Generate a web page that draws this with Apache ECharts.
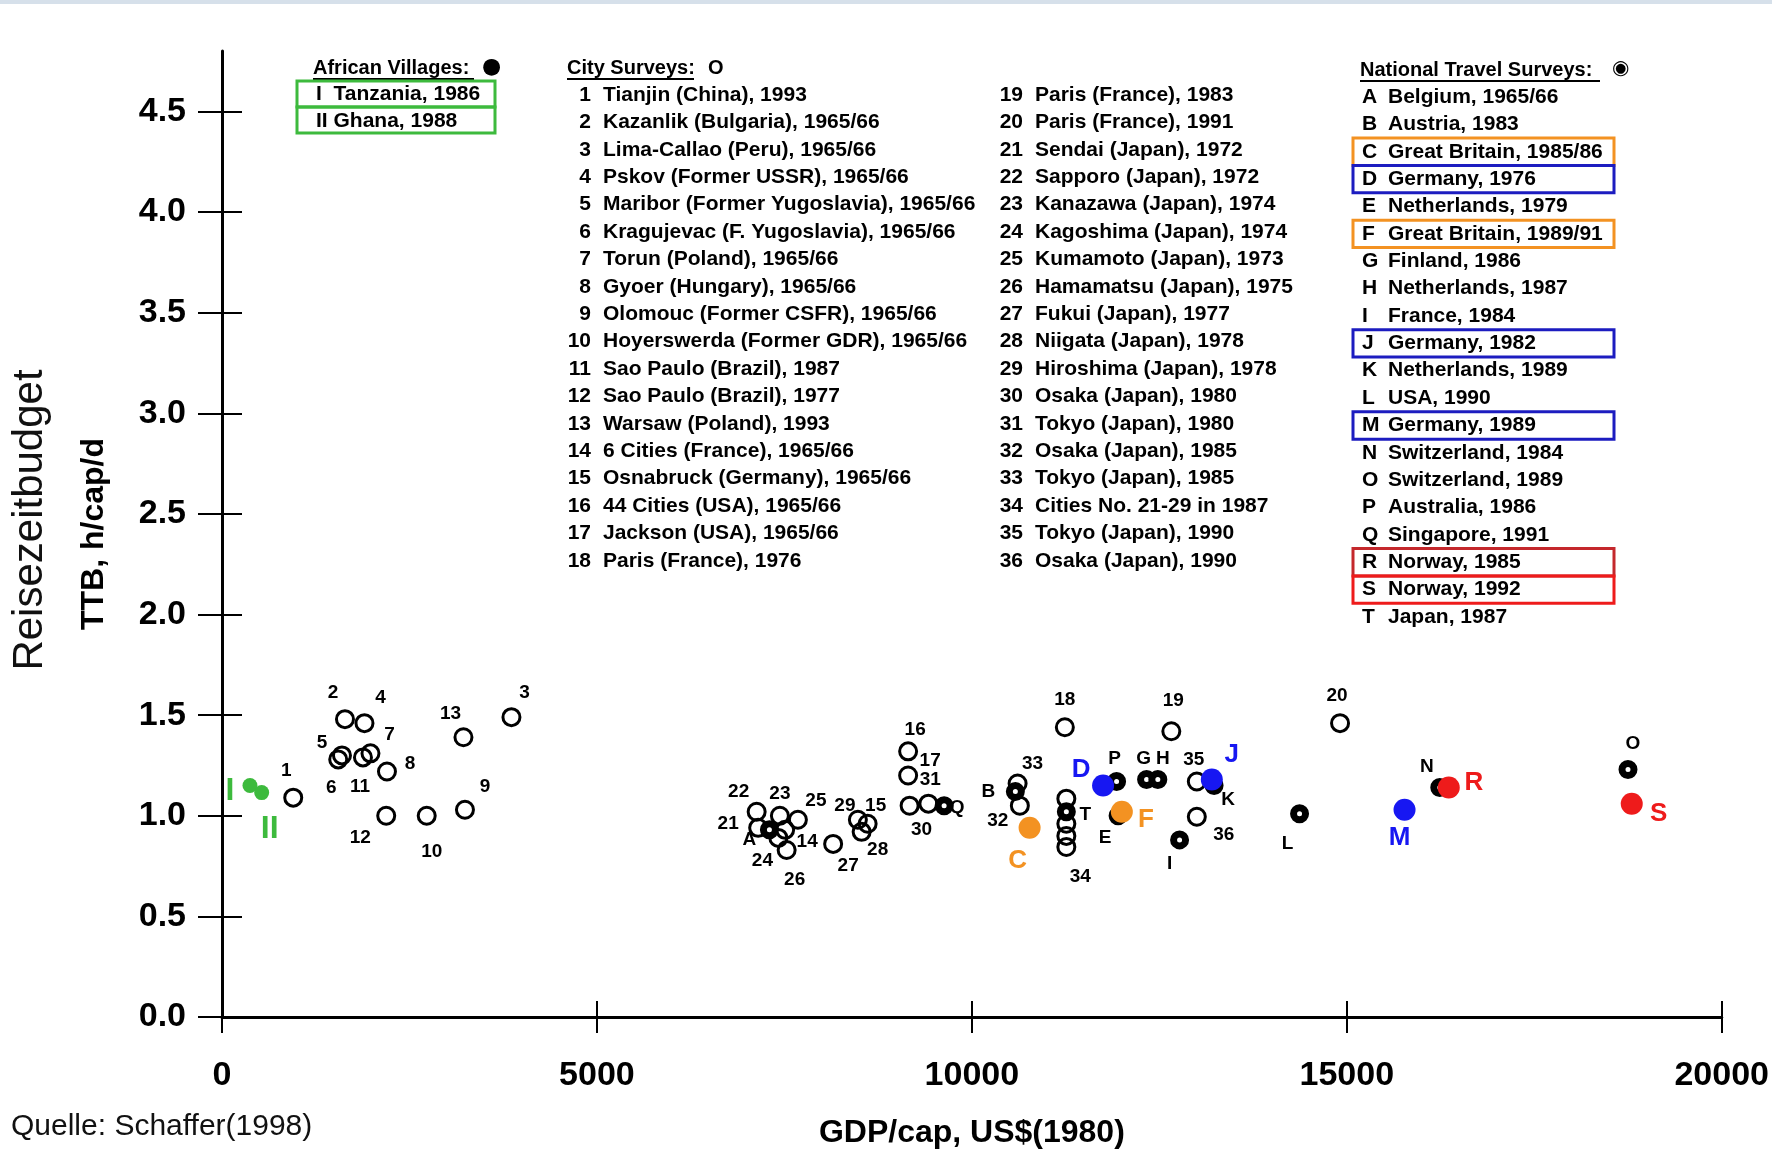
<!DOCTYPE html>
<html>
<head>
<meta charset="utf-8">
<title>Reisezeitbudget</title>
<script src="https://cdn.jsdelivr.net/npm/echarts@6/dist/echarts.min.js"></script>
<style>
html, body { margin: 0; padding: 0; background: #fff; }
#chart { width: 1772px; height: 1156px; }
</style>
</head>
<body>
<div id="chart"></div>
<script>
// Achsen
var yTicks = [0, 0.5, 1.0, 1.5, 2.0, 2.5, 3.0, 3.5, 4.0, 4.5];
var xTicks = [0, 5000, 10000, 15000, 20000];

// African Villages
var villageNames = ['I', 'II'];
var villageGdp = [373, 529];
var villageTtb = [1.15, 1.115];

// City Surveys (34 = mehrere Punkte uebereinander)
var cityNames = ['1','2','3','4','5','6','7','8','9','10','11','12','13','14','15','16','17','18',
                 '19','20','21','22','23','24','25','26','27','28','29','30','31','32','33','35','36',
                 '34','34','34','34'];
var cityGdp = [950, 1640, 3860, 1900, 1600, 1550, 1980, 2200, 3240, 2730, 1880, 2190, 3220, 7510, 8610, 9150, 9150, 11240,
               12660, 14910, 7150, 7130, 7440, 7420, 7680, 7530, 8150, 8530, 8480, 9170, 9420, 10640, 10610, 13000, 13000,
               11260, 11260, 11260, 11260];
var cityTtb = [1.09, 1.48, 1.49, 1.46, 1.30, 1.28, 1.31, 1.22, 1.03, 1.00, 1.29, 1.00, 1.39, 0.93, 0.96, 1.32, 1.20, 1.44,
               1.42, 1.46, 0.94, 1.02, 1.00, 0.89, 0.98, 0.83, 0.86, 0.92, 0.98, 1.05, 1.06, 1.05, 1.16, 1.17, 0.995,
               1.085, 0.96, 0.90, 0.845];

// National Travel Surveys
var natNames = ['A','B','C','D','E','F','G','H','I','J','K','L','M','N','O','P','Q','R','S','T'];
var natGdp = [7300, 10580, 10770, 11750, 11950, 12000, 12330, 12480, 12770, 13200, 13230, 14370, 15770, 16240, 18750, 11930, 9630, 16360, 18800, 11260];
var natTtb = [0.93, 1.12, 0.94, 1.15, 1.00, 1.02, 1.18, 1.18, 0.88, 1.18, 1.15, 1.01, 1.03, 1.14, 1.23, 1.17, 1.05, 1.14, 1.06, 1.02];

// Legendentexte
var villageLegend = ['I  Tanzania, 1986', 'II Ghana, 1988'];
var cityLegend = ['Tianjin (China), 1993', 'Kazanlik (Bulgaria), 1965/66', 'Lima-Callao (Peru), 1965/66',
  'Pskov (Former USSR), 1965/66', 'Maribor (Former Yugoslavia), 1965/66', 'Kragujevac (F. Yugoslavia), 1965/66',
  'Torun (Poland), 1965/66', 'Gyoer (Hungary), 1965/66', 'Olomouc (Former CSFR), 1965/66',
  'Hoyerswerda (Former GDR), 1965/66', 'Sao Paulo (Brazil), 1987', 'Sao Paulo (Brazil), 1977',
  'Warsaw (Poland), 1993', '6 Cities (France), 1965/66', 'Osnabruck (Germany), 1965/66',
  '44 Cities (USA), 1965/66', 'Jackson (USA), 1965/66', 'Paris (France), 1976',
  'Paris (France), 1983', 'Paris (France), 1991', 'Sendai (Japan), 1972', 'Sapporo (Japan), 1972',
  'Kanazawa (Japan), 1974', 'Kagoshima (Japan), 1974', 'Kumamoto (Japan), 1973', 'Hamamatsu (Japan), 1975',
  'Fukui (Japan), 1977', 'Niigata (Japan), 1978', 'Hiroshima (Japan), 1978', 'Osaka (Japan), 1980',
  'Tokyo (Japan), 1980', 'Osaka (Japan), 1985', 'Tokyo (Japan), 1985', 'Cities No. 21-29 in 1987',
  'Tokyo (Japan), 1990', 'Osaka (Japan), 1990'];
var natLegend = ['Belgium, 1965/66', 'Austria, 1983', 'Great Britain, 1985/86', 'Germany, 1976', 'Netherlands, 1979',
  'Great Britain, 1989/91', 'Finland, 1986', 'Netherlands, 1987', 'France, 1984', 'Germany, 1982',
  'Netherlands, 1989', 'USA, 1990', 'Germany, 1989', 'Switzerland, 1984', 'Switzerland, 1989',
  'Australia, 1986', 'Singapore, 1991', 'Norway, 1985', 'Norway, 1992', 'Japan, 1987'];

// Beschriftungsversatz der Punkte (px)
var villageOffset = { 'I': [-20, 6], 'II': [8, 37] };
var cityOffset = {
  '1': [-7, -27], '2': [-12, -26], '3': [13, -24], '4': [16, -25], '5': [-20, -13], '6': [-7, 28],
  '7': [19, -19], '8': [23, -8], '9': [20, -23], '10': [5, 36], '11': [-3, 29], '12': [-26, 22],
  '13': [-13, -23], '14': [22, 12], '15': [8, -18], '16': [7, -22], '17': [22, -15], '18': [0, -27],
  '19': [2, -30], '20': [-3, -27], '21': [-30, -4], '22': [-18, -20], '23': [0, -22], '24': [-16, 23],
  '25': [18, -19], '26': [8, 30], '27': [15, 22], '28': [16, 18], '29': [-13, -14], '30': [12, 24],
  '31': [2, -24], '32': [-22, 15], '33': [15, -20], '34': [14, 30], '35': [-3, -22], '36': [27, 18]
};
var natOffset = {
  A: [-20, 10], B: [-27, 0], C: [-12, 33], D: [-22, -16], E: [-13, 22], F: [24, 8], G: [-3, -21],
  H: [5, -21], I: [-10, 24], J: [20, -25], K: [14, 14], L: [-12, 30], M: [-5, 28], N: [-13, -21],
  O: [5, -26], P: [-2, -23], Q: [13, 2], R: [25, -5], S: [27, 10], T: [19, 3]
};
var natColor = { C: '#f39222', F: '#f39222', D: '#1717f2', J: '#1717f2', M: '#1717f2', R: '#ee1b1b', S: '#ee1b1b' };

var FONT = "'Liberation Sans', Arial, sans-serif";
var GREEN = '#3dba3d';

var villageData = villageNames.map(function (n, i) {
  return { name: n, value: [villageGdp[i], villageTtb[i]], label: { offset: villageOffset[n] } };
});
var cityData = cityNames.map(function (n, i) {
  var last = cityNames.lastIndexOf(n) === i;
  return { name: n, value: [cityGdp[i], cityTtb[i]], label: { show: last, offset: cityOffset[n] } };
});
var natBlack = [], natColored = [];
natNames.forEach(function (n, i) {
  var item = { name: n, value: [natGdp[i], natTtb[i]], label: { offset: natOffset[n] } };
  if (natColor[n]) {
    item.itemStyle = { color: natColor[n], opacity: 1 };
    item.label.color = natColor[n];
    natColored.push(item);
  } else {
    natBlack.push(item);
  }
});

// Legende als Grafik
var g = [];
g.push({ type: 'rect', shape: { x: 0, y: 0, width: 1772, height: 4 }, style: { fill: '#d6e0ea' }, silent: true });
function txt(x, y, s, size, extra) {
  var st = { text: s, fontSize: size, fontWeight: 'bold', fontFamily: FONT, fill: '#000', align: 'left', verticalAlign: 'middle' };
  for (var k in extra) st[k] = extra[k];
  return { type: 'text', x: x, y: y, style: st, silent: true };
}
function box(x, y, w, h, c) {
  return { type: 'rect', shape: { x: x, y: y, width: w, height: h }, style: { fill: 'none', stroke: c, lineWidth: 3 }, silent: true };
}
function uline(x1, x2, y) {
  return { type: 'line', shape: { x1: x1, y1: y, x2: x2, y2: y }, style: { stroke: '#000', lineWidth: 2 }, silent: true };
}

// African Villages
g.push(txt(313, 68, 'African Villages:', 20));
g.push(uline(313, 474, 79));
g.push(txt(482, 67, '●', 22, { fontFamily: "'DejaVu Sans', sans-serif" }));
villageLegend.forEach(function (s, i) {
  g.push(txt(316, 94 + i * 27, s, 21));
});
g.push(box(297, 81, 198, 26, GREEN));
g.push(box(297, 107, 198, 26, GREEN));

// City Surveys
g.push(txt(567, 68, 'City Surveys:', 20));
g.push(uline(567, 694, 79));
g.push(txt(708, 68, 'O', 20));
var rowStep = 27.4;
cityLegend.forEach(function (s, i) {
  var col = i < 18 ? 0 : 1;
  var r = i % 18;
  var y = 95 + r * rowStep;
  var nx = col === 0 ? 591 : 1023;
  g.push(txt(nx, y, String(i + 1), 21, { align: 'right' }));
  g.push(txt(nx + 12, y, s, 21));
});

// National Travel Surveys
g.push(txt(1360, 70, 'National Travel Surveys:', 20));
g.push(uline(1360, 1600, 81));
g.push(txt(1612, 69, '◉', 20, { fontFamily: "'DejaVu Sans', sans-serif" }));
natLegend.forEach(function (s, i) {
  var y = 97 + i * 27.37;
  g.push(txt(1362, y, natNames[i], 21));
  g.push(txt(1388, y, s, 21));
  var c = natColor[natNames[i]];
  if (c) {
    var bc = natNames[i] === 'R' ? '#c4282c' : (c === '#1717f2' ? '#1c1cc0' : c);
    g.push(box(1353, y - 13.7, 261, 27.4, bc));
  }
});

// Zusatztexte
g.push(txt(30, 520, 'Reisezeitbudget', 42, { fontWeight: 'normal', align: 'center', fill: '#111' }));
g[g.length - 1].rotation = Math.PI / 2;
g.push(txt(11, 1127, 'Quelle: Schaffer(1998)', 30, { fontWeight: 'normal', fill: '#111' }));

var chart = echarts.init(document.getElementById('chart'));
chart.setOption({
  animation: false,
  backgroundColor: '#fff',
  grid: { left: 222, right: 50, top: 51, bottom: 139 },
  xAxis: [{
    type: 'value', min: 0, max: 20000, interval: 5000, position: 'bottom',
    axisLine: { lineStyle: { color: '#000', width: 3 } },
    axisTick: { customValues: xTicks, length: 16, lineStyle: { color: '#000', width: 2 } },
    axisLabel: {
      customValues: xTicks, margin: 42, fontSize: 34, color: '#000', fontFamily: FONT, fontWeight: 'bold',
      formatter: function (v) { return String(v); }
    },
    splitLine: { show: false },
    name: 'GDP/cap, US$(1980)', nameLocation: 'middle', nameGap: 100,
    nameTextStyle: { fontSize: 32, fontWeight: 'bold', color: '#000', fontFamily: FONT }
  }, {
    type: 'value', min: 0, max: 20000, interval: 5000, position: 'bottom',
    axisLine: { show: false },
    axisTick: { customValues: xTicks, inside: true, length: 16, lineStyle: { color: '#000', width: 2 } },
    axisLabel: { show: false }, splitLine: { show: false }
  }],
  yAxis: [{
    type: 'value', min: 0, max: 4.8, position: 'left',
    axisLine: { lineStyle: { color: '#000', width: 3 } },
    axisTick: { customValues: yTicks, length: 24, lineStyle: { color: '#000', width: 2 } },
    axisLabel: {
      customValues: yTicks, margin: 36, fontSize: 34, color: '#000', fontFamily: FONT, fontWeight: 'bold',
      formatter: function (v) { return v.toFixed(1); }
    },
    splitLine: { show: false },
    name: 'TTB, h/cap/d', nameLocation: 'middle', nameGap: 112, nameRotate: 90,
    nameTextStyle: { fontSize: 32, fontWeight: 'bold', color: '#000', fontFamily: FONT }
  }, {
    type: 'value', min: 0, max: 4.8, position: 'left',
    axisLine: { show: false },
    axisTick: { customValues: yTicks, inside: true, length: 20, lineStyle: { color: '#000', width: 2 } },
    axisLabel: { show: false }, splitLine: { show: false }
  }],
  graphic: { elements: g },
  series: [{
    name: 'African Villages', type: 'scatter', symbol: 'circle', symbolSize: 15,
    itemStyle: { color: GREEN, opacity: 1 },
    label: { show: true, position: 'inside', formatter: '{b}', fontSize: 32, fontWeight: 'bold', color: GREEN, fontFamily: FONT },
    data: villageData
  }, {
    name: 'City Surveys', type: 'scatter', symbol: 'circle', symbolSize: 17,
    itemStyle: { color: 'rgba(0,0,0,0)', borderColor: '#000', borderWidth: 3, opacity: 1 },
    label: { show: true, position: 'inside', formatter: '{b}', fontSize: 19, fontWeight: 'bold', color: '#000', fontFamily: FONT },
    data: cityData
  }, {
    name: 'National Travel Surveys', type: 'scatter', symbol: 'circle', symbolSize: 12,
    itemStyle: { color: '#fff', borderColor: '#000', borderWidth: 7, opacity: 1 },
    label: { show: true, position: 'inside', formatter: '{b}', fontSize: 19, fontWeight: 'bold', color: '#000', fontFamily: FONT },
    data: natBlack
  }, {
    name: 'National Travel Surveys (markiert)', type: 'scatter', symbol: 'circle', symbolSize: 22,
    itemStyle: { opacity: 1 },
    label: { show: true, position: 'inside', formatter: '{b}', fontSize: 26, fontWeight: 'bold', fontFamily: FONT },
    data: natColored
  }]
});
</script>
</body>
</html>
